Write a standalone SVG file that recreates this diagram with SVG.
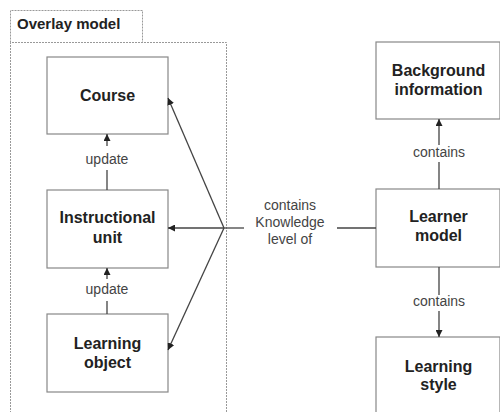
<svg xmlns="http://www.w3.org/2000/svg" width="500" height="412" viewBox="0 0 500 412">
  <defs>
    <marker id="arrow" viewBox="0 0 10 10" refX="10" refY="5" markerWidth="7" markerHeight="7" markerUnits="userSpaceOnUse" orient="auto">
      <path d="M0,0 L10,5 L0,10 Z" fill="#222"/>
    </marker>
    <style>
      .frame { fill: none; stroke: #999; stroke-width: 1; stroke-dasharray: 2 1; }
      .box { fill: #fff; stroke: #888; stroke-width: 1.2; }
      .title { font-family: "Liberation Sans", Arial, sans-serif; font-size: 16px; font-weight: bold; fill: #222; text-anchor: middle; }
      .frame-title { font-family: "Liberation Sans", Arial, sans-serif; font-size: 15px; font-weight: bold; fill: #222; }
      .label { font-family: "Liberation Sans", Arial, sans-serif; font-size: 14px; fill: #444; text-anchor: middle; }
      .conn { fill: none; stroke: #444; stroke-width: 1.3; }
    </style>
  </defs>
  <rect width="500" height="412" fill="#fff"/>

  <!-- Overlay model package frame -->
  <g id="overlay-model">
    <path class="frame" d="M10.5,42.5 V10.5 H142.5 V42.5"/>
    <path class="frame" d="M10.5,413 V42.5 H226.5 V413"/>
    <text class="frame-title" x="17" y="29">Overlay model</text>
  </g>

  <g id="course">
    <rect class="box" x="47" y="57" width="121" height="77"/>
    <text class="title" x="107.5" y="101">Course</text>
  </g>

  <g id="instructional-unit">
    <rect class="box" x="47" y="190" width="121" height="78"/>
    <text class="title" x="107.5" y="223">Instructional</text>
    <text class="title" x="107.5" y="243">unit</text>
  </g>

  <g id="learning-object">
    <rect class="box" x="47" y="314" width="121" height="78"/>
    <text class="title" x="107.5" y="349">Learning</text>
    <text class="title" x="107.5" y="368">object</text>
  </g>

  <g id="background-information">
    <rect class="box" x="376" y="42" width="124" height="77"/>
    <text class="title" x="438.5" y="76">Background</text>
    <text class="title" x="438.5" y="95">information</text>
  </g>

  <g id="learner-model">
    <rect class="box" x="376" y="189" width="124" height="78"/>
    <text class="title" x="438.5" y="222">Learner</text>
    <text class="title" x="438.5" y="241">model</text>
  </g>

  <g id="learning-style">
    <rect class="box" x="376" y="337" width="124" height="80"/>
    <text class="title" x="438.5" y="372">Learning</text>
    <text class="title" x="438.5" y="390">style</text>
  </g>

  <g id="connectors">
    <!-- update: instructional unit -> course -->
    <path class="conn" d="M107,190 V170 M107,146 V134" marker-end="url(#arrow)"/>
    <text class="label" x="107" y="164">update</text>

    <!-- update: learning object -> instructional unit -->
    <path class="conn" d="M107,314 V301 M107,279 V268" marker-end="url(#arrow)"/>
    <text class="label" x="107" y="294">update</text>

    <!-- contains knowledge level of: learner model -> overlay elements -->
    <path class="conn" d="M376,228 H337"/>
    <path class="conn" d="M244,228 H224"/>
    <path class="conn" d="M224,228 L168,98" marker-end="url(#arrow)"/>
    <path class="conn" d="M224,228 H168" marker-end="url(#arrow)"/>
    <path class="conn" d="M224,228 L168,350" marker-end="url(#arrow)"/>
    <text class="label" x="290" y="210">contains</text>
    <text class="label" x="290" y="227">Knowledge</text>
    <text class="label" x="290" y="244">level of</text>

    <!-- contains: learner model -> background information -->
    <path class="conn" d="M439,189 V162 M439,145 V119" marker-end="url(#arrow)"/>
    <text class="label" x="439" y="157">contains</text>

    <!-- contains: learner model -> learning style -->
    <path class="conn" d="M439,267 V295 M439,311 V337" marker-end="url(#arrow)"/>
    <text class="label" x="439" y="306">contains</text>
  </g>
</svg>
